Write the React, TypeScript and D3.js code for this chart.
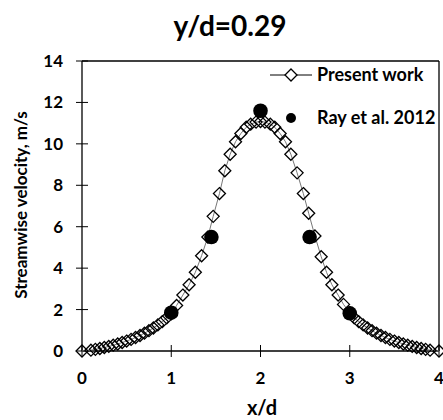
import * as d3 from 'd3';

// Present work (simulation), x/d and velocity
const presentX = [
  0, 0.1, 0.15, 0.2, 0.25, 0.3, 0.35, 0.4, 0.45, 0.5, 0.55, 0.6, 0.65, 0.7, 0.75, 0.8, 0.85, 0.9, 0.95, 1.0,
  1.06, 1.13, 1.2, 1.27, 1.34, 1.41, 1.47, 1.54, 1.6, 1.66, 1.72, 1.78, 1.84, 1.89, 1.95, 2.0,
  2.05, 2.11, 2.16, 2.22, 2.28, 2.34, 2.41, 2.48, 2.54, 2.61, 2.68, 2.74, 2.8, 2.87, 2.93, 3.0,
  3.05, 3.1, 3.15, 3.2, 3.25, 3.3, 3.35, 3.4, 3.45, 3.5, 3.55, 3.6, 3.65, 3.7, 3.75, 3.8, 3.85, 3.9, 4.0,
];
const presentV = [
  0, 0.04, 0.08, 0.12, 0.17, 0.22, 0.28, 0.34, 0.41, 0.48, 0.56, 0.65, 0.75, 0.86, 0.98, 1.11, 1.26, 1.42, 1.6, 1.8,
  2.2, 2.7, 3.2, 3.8, 4.6, 5.5, 6.5, 7.6, 8.7, 9.5, 10.1, 10.5, 10.8, 10.95, 11.05, 11.08,
  11.05, 10.95, 10.8, 10.5, 10.1, 9.5, 8.6, 7.6, 6.65, 5.55, 4.55, 3.8, 3.2, 2.7, 2.25, 1.85,
  1.6, 1.42, 1.26, 1.11, 0.98, 0.86, 0.75, 0.65, 0.56, 0.48, 0.41, 0.34, 0.28, 0.22, 0.17, 0.12, 0.08, 0.04, 0,
];

// Ray et al. 2012 (experiment)
const rayX = [1.0, 1.45, 2.0, 2.55, 3.0];
const rayV = [1.85, 5.5, 11.6, 5.5, 1.82];

const xTicks = [0, 1, 2, 3, 4];
const yTicks = [0, 2, 4, 6, 8, 10, 12, 14];

const W = 443;
const H = 420;
const FONT = 'Lato, "Open Sans", sans-serif';

export default function App() {
  const x = d3.scaleLinear().domain([0, 4]).range([82, 439]);
  const y = d3.scaleLinear().domain([0, 14]).range([351, 61]);

  const pts = presentX.map((px, i) => [x(px), y(presentV[i])] as [number, number]);
  const line = d3.line()(pts) ?? '';
  const diamond = (cx: number, cy: number, r = 6) =>
    `M${cx},${cy - r}L${cx + r},${cy}L${cx},${cy + r}L${cx - r},${cy}Z`;

  return (
    <>
      <style>{`body{margin:0}`}</style>
      <svg width={W} height={H} style={{ display: 'block', fontFamily: FONT }}>
        <rect width={W} height={H} fill="#fff" />
        <text x={230} y={36} textAnchor="middle" fontSize={28} fontWeight="bold">y/d=0.29</text>

        {/* frame */}
        <line x1={82} x2={439} y1={61} y2={61} stroke="#000" strokeWidth={1.3} />
        <line x1={439} x2={439} y1={61} y2={351} stroke="#000" strokeWidth={1.3} />
        <line x1={82} x2={82} y1={61} y2={351} stroke="#000" strokeWidth={1.3} />
        <line x1={82} x2={439} y1={351} y2={351} stroke="#000" strokeWidth={1.3} />

        {yTicks.map((t) => (
          <g key={'y' + t}>
            <line x1={76} x2={88} y1={y(t)} y2={y(t)} stroke="#000" strokeWidth={1} />
            <text x={63} y={y(t)} dy="0.35em" textAnchor="end" fontSize={17} fontWeight="bold">{t}</text>
          </g>
        ))}
        {xTicks.map((t) => (
          <g key={'x' + t}>
            <line x1={x(t)} x2={x(t)} y1={345} y2={357} stroke="#000" strokeWidth={1} />
            <text x={x(t)} y={384} textAnchor="middle" fontSize={17} fontWeight="bold">{t}</text>
          </g>
        ))}

        <text x={262} y={415} textAnchor="middle" fontSize={20} fontWeight="bold">x/d</text>
        <text transform="translate(27,205) rotate(-90)" textAnchor="middle" fontSize={17} fontWeight="bold">
          Streamwise velocity, m/s
        </text>

        <path d={line} fill="none" stroke="#777" strokeWidth={1} />
        {pts.map(([cx, cy], i) => (
          <path key={'d' + i} d={diamond(cx, cy)} fill="none" stroke="#000" strokeWidth={1.3} />
        ))}
        {rayX.map((rx, i) => (
          <circle key={'r' + i} cx={x(rx)} cy={y(rayV[i])} r={7.3} fill="#000" />
        ))}

        {/* legend */}
        <line x1={270} x2={312} y1={75} y2={75} stroke="#000" strokeWidth={1} />
        <path d={diamond(291, 75)} fill="#fff" stroke="#000" strokeWidth={1.3} />
        <text x={317} y={75} dy="0.35em" fontSize={18} fontWeight="bold">Present work</text>
        <circle cx={291} cy={118} r={5} fill="#000" />
        <text x={317} y={118} dy="0.35em" fontSize={18} fontWeight="bold">Ray et al. 2012</text>
      </svg>
    </>
  );
}
